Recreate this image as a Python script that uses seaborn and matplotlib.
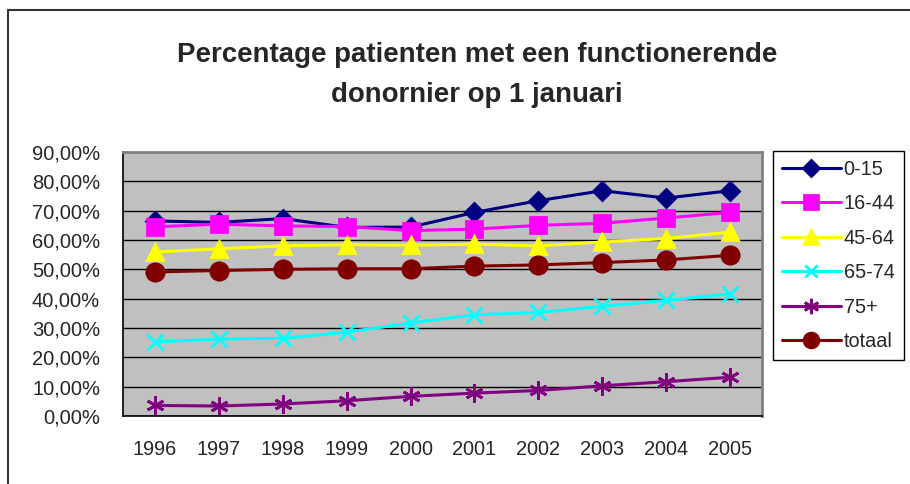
import numpy as np
import pandas as pd
import matplotlib
matplotlib.use("Agg")
import matplotlib.pyplot as plt
from matplotlib.patches import Rectangle
from matplotlib.ticker import FuncFormatter, FixedLocator
import seaborn as sns

# gegevens
jaren = ["1996", "1997", "1998", "1999", "2000", "2001", "2002", "2003", "2004", "2005"]
groep_0_15 = [66.5, 66.0, 67.3, 64.3, 64.4, 69.4, 73.4, 76.8, 74.3, 76.8]
groep_16_44 = [64.5, 65.4, 64.8, 64.6, 63.2, 63.7, 65.0, 65.7, 67.5, 69.4]
groep_45_64 = [55.9, 57.0, 58.0, 58.4, 58.2, 58.6, 58.0, 59.3, 60.5, 62.7]
groep_65_74 = [25.3, 26.2, 26.5, 28.6, 31.7, 34.5, 35.3, 37.4, 39.4, 41.6]
groep_75plus = [3.6, 3.4, 4.1, 5.2, 6.7, 7.8, 8.7, 10.3, 11.7, 13.2]
totaal = [49.1, 49.6, 50.0, 50.2, 50.2, 51.1, 51.5, 52.3, 53.2, 54.8]

reeksen = {
    "0-15": groep_0_15,
    "16-44": groep_16_44,
    "45-64": groep_45_64,
    "65-74": groep_65_74,
    "75+": groep_75plus,
    "totaal": totaal,
}

# long format voor seaborn
rijen = []
for naam, waarden in reeksen.items():
    for jaar, w in zip(jaren, waarden):
        rijen.append({"jaar": jaar, "groep": naam, "pct": w / 100})
df = pd.DataFrame(rijen)

kleuren = {"0-15": "#000080", "16-44": "#FF00FF", "45-64": "#FFFF00",
           "65-74": "#00FFFF", "75+": "#800080", "totaal": "#800000"}
markers = {"0-15": "D", "16-44": "s", "45-64": "^", "65-74": "x", "75+": (6, 2, 0), "totaal": "o"}
msizes = {"0-15": 9.5, "16-44": 11.5, "45-64": 11.5, "65-74": 11, "75+": 13, "totaal": 12.5}

sns.set_style("white")
plt.rcParams["font.family"] = ["Liberation Sans", "DejaVu Sans"]

fig = plt.figure(figsize=(9.1, 4.84), dpi=100)
ax = fig.add_axes([123 / 910, 68 / 484, 639 / 910, 264 / 484])
ax.set_facecolor("#C0C0C0")

for naam in reeksen.keys():
    sub = df[df["groep"] == naam]
    sns.lineplot(data=sub, x="jaar", y="pct", color=kleuren[naam], marker=markers[naam],
                 markersize=msizes[naam], markeredgewidth=2, markeredgecolor=kleuren[naam],
                 linewidth=2.2, ax=ax, sort=False, label=naam)

ax.set_xlim(-0.5, len(jaren) - 0.5)
ax.set_ylim(0, 0.9)
ax.set_yticks(np.arange(0, 0.91, 0.1))
ax.yaxis.set_major_formatter(FuncFormatter(lambda v, p: f"{v * 100:.2f}%".replace(".", ",")))
ax.xaxis.set_minor_locator(FixedLocator(np.arange(-0.5, len(jaren), 1)))
ax.tick_params(axis="x", which="major", length=0, pad=17.5, labelsize=14.3)
ax.tick_params(axis="x", which="minor", length=7, width=1, color="black", direction="out")
ax.tick_params(axis="y", length=7, width=1, color="black", direction="out", pad=9.5, labelsize=14.5)
ax.grid(axis="y", color="black", linewidth=1)
ax.set_axisbelow(True)
ax.set_xlabel("")
ax.set_ylabel("")

for kant in ["left", "bottom"]:
    ax.spines[kant].set_color("black")
    ax.spines[kant].set_linewidth(1.2)
for kant in ["top", "right"]:
    ax.spines[kant].set_color("#808080")
    ax.spines[kant].set_linewidth(2)

# legenda
handles, labels = ax.get_legend_handles_labels()
ax.get_legend().remove()
leg = fig.legend(handles, labels, loc="upper left",
                 bbox_to_anchor=(773 / 910, 1 - 151 / 484), borderaxespad=0, fontsize=14.3,
                 frameon=True, fancybox=False, edgecolor="black", framealpha=1,
                 handlelength=2.95, labelspacing=0.78, borderpad=0.45, handletextpad=0.15,
                 markerscale=0.85)
leg.get_frame().set_linewidth(1)

# titel
fig.text(477 / 910, 1 - 75 / 484, "Percentage patienten met een functionerende\ndonornier op 1 januari",
         ha="center", va="center", fontsize=19.9, fontweight="bold", linespacing=1.7)

# rand van het grafiekgebied
fig.patches.append(Rectangle((8 / 910, -0.1), 1.2, 1 - 10 / 484 + 0.1, transform=fig.transFigure,
                             fill=False, edgecolor="#333333", linewidth=1.5))

fig.savefig("out.png", dpi=100)
plt.close()
